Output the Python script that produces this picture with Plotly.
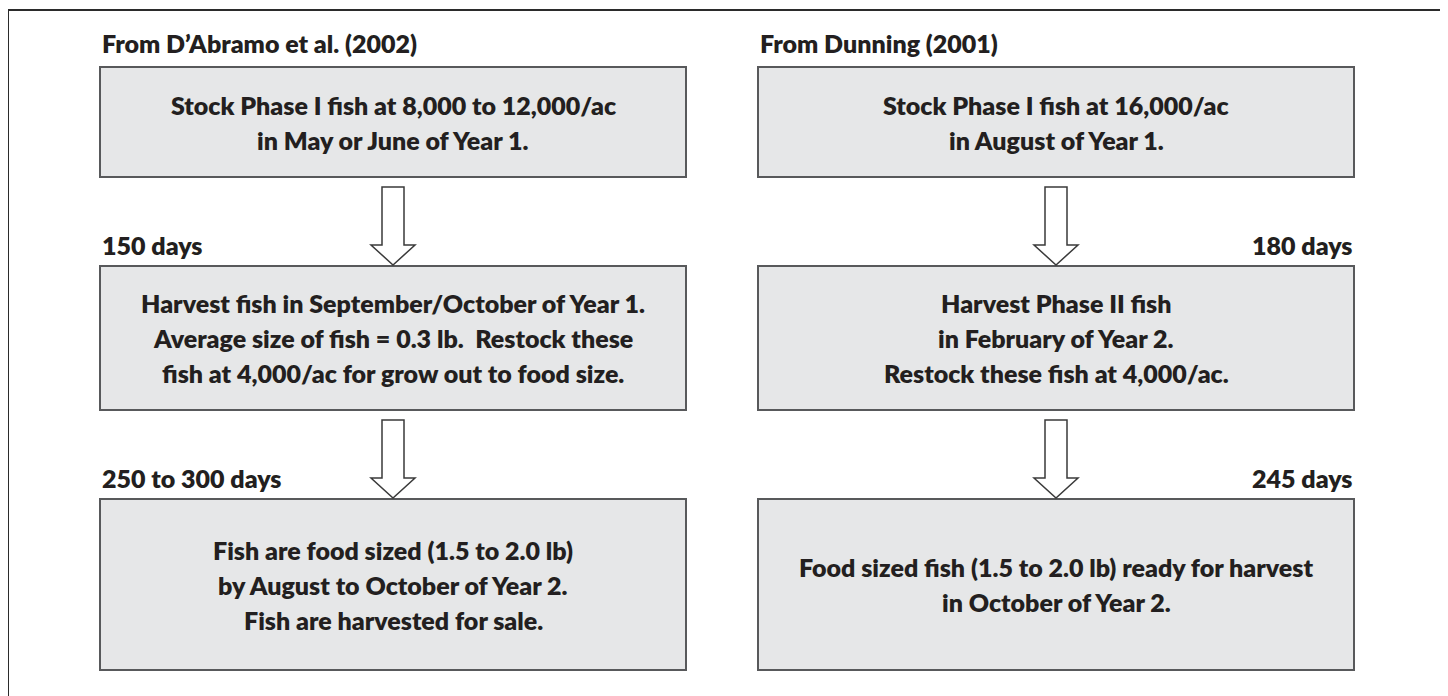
import plotly.graph_objects as go

# page is offset by the 8px body margin; axes map page pixels directly
OFF = 8
W, H = 1448, 696

# ---- content ----
titles = ["From D\u2019Abramo et al. (2002)", "From Dunning (2001)"]
left_boxes = [
    ["Stock Phase I fish at 8,000 to 12,000/ac", "in May or June of Year 1."],
    ["Harvest fish in September/October of Year 1.",
     "Average size of fish = 0.3 lb.  Restock these",
     "fish at 4,000/ac for grow out to food size."],
    ["Fish are food sized (1.5 to 2.0 lb)", "by August to October of Year 2.",
     "Fish are harvested for sale."],
]
right_boxes = [
    ["Stock Phase I fish at 16,000/ac", "in August of Year 1."],
    ["Harvest Phase II fish", "in February of Year 2.", "Restock these fish at 4,000/ac."],
    ["Food sized fish (1.5 to 2.0 lb) ready for harvest", "in October of Year 2."],
]
left_steps = ["150 days", "250 to 300 days"]
right_steps = ["180 days", "245 days"]

# ---- layout (page pixels) ----
cols = [(100, 686), (758, 1354)]
rows = [(67, 177), (266, 410), (499, 670)]
line_gap = 35
FONT = "Lato"
TXT = "#231f20"
FILL = "#e6e7e8"
EDGE = "#58595b"
fs_box = 25
fs_lab = 25
WEIGHT = 800

fig = go.Figure()
shapes = []
ann = []

# outer frame (open at bottom)
shapes.append(dict(type="path", path=f"M 8 {H+10} L 8 10 L 1445 10 L 1445 {H+10}",
                   line=dict(color="#2b2b2b", width=2)))

def add_box(col, row, lines):
    x0, x1 = cols[col]
    y0, y1 = rows[row]
    shapes.append(dict(type="rect", x0=x0, x1=x1, y0=y0, y1=y1,
                       fillcolor=FILL, line=dict(color=EDGE, width=2)))
    cx = (x0 + x1) / 2
    cy = (y0 + y1) / 2
    n = len(lines)
    for i, t in enumerate(lines):
        y = cy + (i - (n - 1) / 2) * line_gap
        ann.append(dict(x=cx, y=y, text=t, showarrow=False,
                        xanchor="center", yanchor="middle",
                        font=dict(family=FONT, size=fs_box, color=TXT, weight=WEIGHT)))

def add_arrow(col, r):
    x0, x1 = cols[col]
    cx = (x0 + x1) / 2
    top = rows[r][1] + 10
    tip = rows[r + 1][0] - 1
    hb = tip - 20
    sw, hw = 11, 22
    p = (f"M {cx-sw} {top} L {cx+sw} {top} L {cx+sw} {hb} L {cx+hw} {hb} "
         f"L {cx} {tip} L {cx-hw} {hb} L {cx-sw} {hb} Z")
    shapes.append(dict(type="path", path=p, fillcolor="white",
                       line=dict(color="#3a3a3a", width=1.5)))

for c, boxes in enumerate([left_boxes, right_boxes]):
    for r, lines in enumerate(boxes):
        add_box(c, r, lines)
    for r in range(2):
        add_arrow(c, r)

# titles
for c, t in enumerate(titles):
    ann.append(dict(x=cols[c][0], y=43, text=t, showarrow=False,
                    xanchor="left", yanchor="middle",
                    font=dict(family=FONT, size=fs_lab, color=TXT, weight=WEIGHT)))

# step labels
for r in range(2):
    y = rows[r + 1][0] - 21
    ann.append(dict(x=cols[0][0], y=y, text=left_steps[r], showarrow=False,
                    xanchor="left", yanchor="middle",
                    font=dict(family=FONT, size=fs_lab, color=TXT, weight=WEIGHT)))
    ann.append(dict(x=cols[1][1], y=y, text=right_steps[r], showarrow=False,
                    xanchor="right", yanchor="middle",
                    font=dict(family=FONT, size=fs_lab, color=TXT, weight=WEIGHT)))

fig.update_layout(
    width=W - OFF, height=H - OFF, margin=dict(l=0, r=0, t=0, b=0),
    paper_bgcolor="white", plot_bgcolor="white",
    xaxis=dict(range=[OFF, W], visible=False, fixedrange=True),
    yaxis=dict(range=[H, OFF], visible=False, fixedrange=True),
    shapes=shapes, annotations=ann, showlegend=False,
)
fig.write_html("out.html", config={"displayModeBar": False})
